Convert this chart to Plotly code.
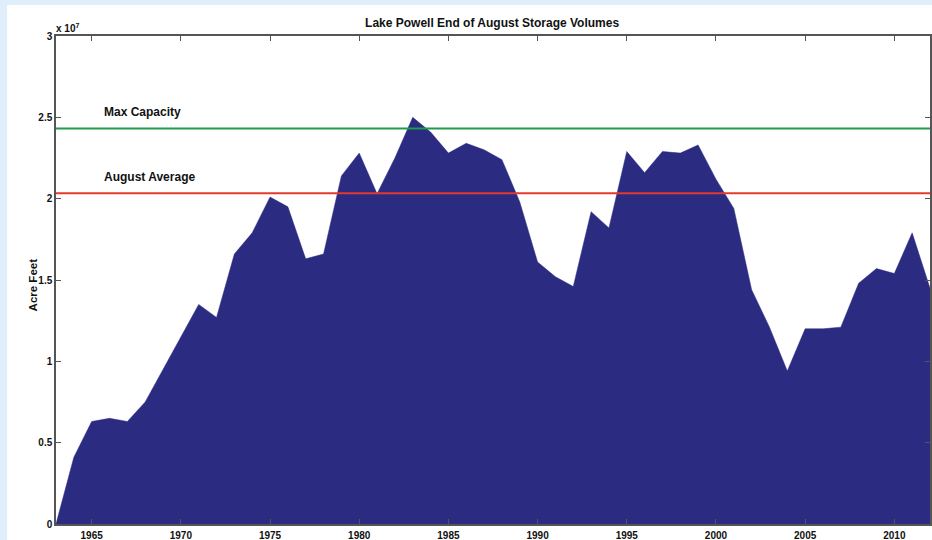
import plotly.graph_objects as go

# End of August storage, acre-feet
years = list(range(1963, 2013))
storage = [
    0, 4.1e6, 6.3e6, 6.5e6, 6.3e6, 7.5e6, 9.5e6, 11.5e6, 13.5e6, 12.7e6,
    16.6e6, 17.9e6, 20.1e6, 19.5e6, 16.3e6, 16.6e6, 21.4e6, 22.8e6, 20.3e6, 22.5e6,
    25.0e6, 24.1e6, 22.8e6, 23.4e6, 23.0e6, 22.4e6, 19.8e6, 16.1e6, 15.2e6, 14.6e6,
    19.2e6, 18.2e6, 22.9e6, 21.6e6, 22.9e6, 22.8e6, 23.3e6, 21.2e6, 19.4e6, 14.4e6,
    12.1e6, 9.4e6, 12.0e6, 12.0e6, 12.1e6, 14.8e6, 15.7e6, 15.4e6, 17.9e6, 14.5e6,
]
max_capacity = 24.32e6
august_average = 20.34e6

x_ticks = [1965, 1970, 1975, 1980, 1985, 1990, 1995, 2000, 2005, 2010]
y_tickvals = [0, 5e6, 10e6, 15e6, 20e6, 25e6, 30e6]
y_ticktext = ["0", "0.5", "1", "1.5", "2", "2.5", "3"]

FONT = "Liberation Sans, Arial, sans-serif"
NAVY = "#2b2b82"

fig = go.Figure()
fig.add_trace(go.Scatter(
    x=years, y=storage, mode="lines", fill="tozeroy",
    line=dict(color=NAVY, width=0.5), fillcolor=NAVY, showlegend=False,
))
fig.add_trace(go.Scatter(
    x=[years[0], years[-1]], y=[max_capacity, max_capacity], mode="lines",
    line=dict(color="#1f9a4e", width=2), showlegend=False,
))
fig.add_trace(go.Scatter(
    x=[years[0], years[-1]], y=[august_average, august_average], mode="lines",
    line=dict(color="#e23a2e", width=2), showlegend=False,
))

# white panel over light blue frame
fig.add_shape(type="rect", xref="paper", yref="paper", layer="below",
              x0=-0.056, x1=1.01, y0=-0.05, y1=1.0635,
              fillcolor="white", line_width=0)

lbl = dict(xref="paper", x=0.0526, xanchor="left", showarrow=False,
           font=dict(family=FONT, size=12, color="#111", weight="bold"))
fig.add_annotation(text="Max Capacity", y=max_capacity, yshift=16, **lbl)
fig.add_annotation(text="August Average", y=august_average, yshift=16, **lbl)
fig.add_annotation(text="x 10<sup>7</sup>", xref="paper", yref="paper", x=-0.002, y=1.0,
                   xanchor="left", yanchor="bottom", showarrow=False,
                   font=dict(family=FONT, size=10, color="#111", weight="bold"))
fig.add_annotation(text="Acre Feet", xref="paper", yref="paper", x=-0.036, y=0.49,
                   textangle=-90, showarrow=False,
                   font=dict(family=FONT, size=11.5, color="#111", weight="bold"))

axis_common = dict(
    showgrid=False, zeroline=False, showline=True, linecolor="#555", linewidth=1.5,
    mirror="ticks", ticks="inside", ticklen=5, tickcolor="#555",
    tickfont=dict(family=FONT, size=10, color="#111", weight="bold"),
)
fig.update_layout(
    width=932, height=540,
    paper_bgcolor="#dfeefa", plot_bgcolor="white",
    margin=dict(l=56, r=2, t=36, b=16, autoexpand=False),
    title=dict(text="Lake Powell End of August Storage Volumes", x=0.528, xanchor="center",
               y=0.957, yanchor="middle",
               font=dict(family=FONT, size=12, color="#111", weight="bold")),
    xaxis=dict(range=[1963, 2012], tickvals=x_ticks, ticklabelstandoff=1, **axis_common),
    yaxis=dict(range=[0, 3e7], tickvals=y_tickvals, ticktext=y_ticktext, **axis_common),
)

fig.write_html("out.html", config={"displayModeBar": False},
               post_script="document.body.style.margin='0';")
